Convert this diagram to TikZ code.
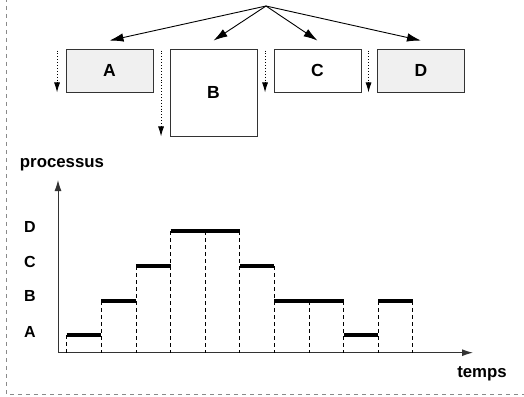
\documentclass[tikz,border=0pt]{standalone}
\usepackage{fontspec}
\setmainfont{Liberation Sans}
\usetikzlibrary{arrows.meta,calc}
\definecolor{boxgray}{HTML}{F0F0F0}
\definecolor{edgegray}{HTML}{333333}
\definecolor{framegray}{HTML}{8A8A8A}
\begin{document}
\begin{tikzpicture}[x=1pt,y=-1pt,
  lbl/.style={font=\bfseries\fontsize{16}{19}\selectfont, inner sep=0pt},
  biglbl/.style={font=\bfseries\fontsize{16.8}{20}\selectfont, inner sep=0pt},
  procbox/.style={draw=edgegray, line width=0.9pt, minimum width=87pt, inner sep=0pt,
    font=\bfseries\fontsize{17.5}{20}\selectfont},
  fanarrow/.style={draw=black, line width=0.9pt, -{Latex[length=14pt,width=8.5pt]}},
  dotarrow/.style={draw=black, line width=0.9pt, dotted, -{Latex[length=10pt,width=6pt,fill=black]}},
  axis/.style={draw=black!80, line width=1pt, -{Latex[length=11pt,width=7pt]}},
  bar/.style={line width=4.8pt, line cap=butt},
  dashline/.style={line width=0.7pt, dash pattern=on 4pt off 3pt},
  frame/.style={draw=framegray, line width=0.8pt, dash pattern=on 4pt off 4pt}]
\useasboundingbox (0,0) rectangle (524,396);
% frame
\draw[frame] (6,-2) -- (6,394) -- (526,394);
% source of the fan
\coordinate (src) at (266,6);
% process boxes
\node[procbox, fill=boxgray, minimum height=43pt] (A) at (109.5,70.5) {A};
\node[procbox, fill=white, minimum height=87pt] (B) at (213.5,92.5) {B};
\node[procbox, fill=white, minimum height=43pt] (C) at (317.5,70.5) {C};
\node[procbox, fill=boxgray, minimum height=43pt] (D) at (421,70.5) {D};
% fan arrows
\foreach \n in {A,B,C,D}
  \draw[fanarrow] (src) -- ([yshift=8pt]\n.north);
% dotted arrows
\foreach \n in {A,B,C,D}
  \draw[dotarrow] ([xshift=-8.5pt,yshift=-2pt]\n.north west) -- ([xshift=-8.5pt]\n.south west);
% chart axes
\coordinate (O) at (58,352.7);
\coordinate (ytip) at (58,180);
\coordinate (xtip) at (473,352.7);
\draw[axis] (O) -- (ytip);
\draw[axis] (O) -- (xtip);
\node[biglbl] (proc) at (62,165) {processus};
\node[biglbl] (temps) at (482,374) {temps};
\node[lbl] (lD) at (30,227) {D};
\node[lbl] (lC) at (30,262) {C};
\node[lbl] (lB) at (30,296) {B};
\node[lbl] (lA) at (30,332) {A};
% dashed separators
\foreach \i/\l in {0/335,1/301,2/266,3/231,4/231,5/231,6/266,7/301,8/301,9/301,10/301}
  \draw[dashline] ({66.7+34.6*\i},\l) -- ({66.7+34.6*\i},352.7);
% bars
\foreach \i/\l in {0/335,1/301,2/266,3/231,4/231,5/266,6/301,7/301,8/335,9/301}
  \draw[bar] ({66.7+34.6*\i},\l) -- ({66.7+34.6*(\i+1)},\l);
\end{tikzpicture}
\end{document}
